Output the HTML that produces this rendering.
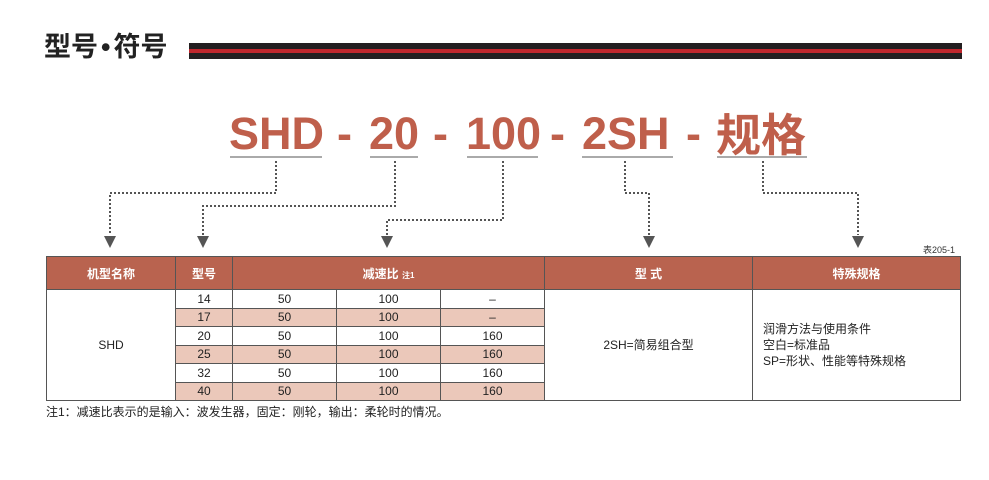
<!DOCTYPE html>
<html><head><meta charset="utf-8"><style>
body{margin:0;width:989px;height:480px;background:#fff;position:relative;overflow:hidden;font-family:"Liberation Sans","Noto Sans CJK SC",sans-serif}
.a{position:absolute;white-space:nowrap}
.big{position:absolute;top:106px;font-size:45px;font-weight:bold;color:#bf5f4b;line-height:56px}
table{position:absolute;left:46px;top:256px;width:914px;table-layout:fixed;border-collapse:collapse;font-size:12px;color:#222}
td{border:1px solid #555;text-align:center;padding:0;height:17.5px;line-height:16px;overflow:hidden}
th{background:#b9634f;color:#fff;font-weight:bold;border:1px solid #555;height:32px;padding:0;font-size:12px}
tr.p td.v{background:#ebc8ba}
</style></head><body>
<div class="a" style="left:44px;top:28px;font-size:27px;font-weight:bold;color:#222;font-family:'Noto Sans CJK SC',sans-serif;line-height:34px">型号<span style="font-family:'Liberation Sans';margin:0 3px">•</span>符号</div>
<div class="a" style="left:189px;top:43px;width:773px;height:6px;background:#231f20"></div>
<div class="a" style="left:189px;top:49px;width:773px;height:4px;background:#c0272d"></div>
<div class="a" style="left:189px;top:53px;width:773px;height:6px;background:#231f20"></div>

<div class="big" style="left:229px">SHD</div>
<div class="big" style="left:337px">-</div>
<div class="big" style="left:369px">20</div>
<div class="big" style="left:433px">-</div>
<div class="big" style="left:466px">100</div>
<div class="big" style="left:550px">-</div>
<div class="big" style="left:582px">2SH</div>
<div class="big" style="left:686px">-</div>
<div class="big" style="left:716px;font-family:'Noto Sans CJK SC',sans-serif;top:104px">规格</div>

<svg class="a" style="left:0;top:0" width="989" height="480">
<g stroke="#aaa" stroke-width="2">
<line x1="230" y1="157" x2="322" y2="157"/><line x1="370" y1="157" x2="418" y2="157"/>
<line x1="467" y1="157" x2="538" y2="157"/><line x1="582" y1="157" x2="673" y2="157"/>
<line x1="717" y1="157" x2="807" y2="157"/></g>
<g stroke="#555" stroke-width="2" stroke-dasharray="2,2" fill="none">
<polyline points="276,161 276,193 110,193 110,235"/>
<polyline points="395,161 395,206 203,206 203,235"/>
<polyline points="503,161 503,220 387,220 387,235"/>
<polyline points="625,161 625,193 649,193 649,235"/>
<polyline points="763,161 763,193 858,193 858,235"/></g>
<g fill="#555">
<polygon points="104,236 116,236 110,248"/><polygon points="197,236 209,236 203,248"/>
<polygon points="381,236 393,236 387,248"/><polygon points="643,236 655,236 649,248"/>
<polygon points="852,236 864,236 858,248"/></g>
</svg>
<div class="a" style="left:923px;top:243px;font-size:9px;color:#333">表205-1</div>

<table>
<colgroup><col style="width:129px"><col style="width:57px"><col style="width:104px"><col style="width:104px"><col style="width:104px"><col style="width:208px"><col style="width:208px"></colgroup>
<tr><th>机型名称</th><th>型号</th><th colspan="3">减速比 <span style="font-size:8px">注1</span></th><th>型 式</th><th>特殊规格</th></tr>
<tr><td rowspan="6">SHD</td><td class="v">14</td><td class="v">50</td><td class="v">100</td><td class="v">–</td><td rowspan="6">2SH=简易组合型</td><td rowspan="6" style="text-align:left;padding-left:10px;line-height:16px">润滑方法与使用条件<br>空白=标准品<br>SP=形状、性能等特殊规格</td></tr>
<tr class="p"><td class="v">17</td><td class="v">50</td><td class="v">100</td><td class="v">–</td></tr>
<tr><td class="v">20</td><td class="v">50</td><td class="v">100</td><td class="v">160</td></tr>
<tr class="p"><td class="v">25</td><td class="v">50</td><td class="v">100</td><td class="v">160</td></tr>
<tr><td class="v">32</td><td class="v">50</td><td class="v">100</td><td class="v">160</td></tr>
<tr class="p"><td class="v">40</td><td class="v">50</td><td class="v">100</td><td class="v">160</td></tr>
</table>
<div class="a" style="left:46px;top:403px;font-size:12px;color:#222">注1：减速比表示的是输入：波发生器，固定：刚轮，输出：柔轮时的情况。</div>
</body></html>
